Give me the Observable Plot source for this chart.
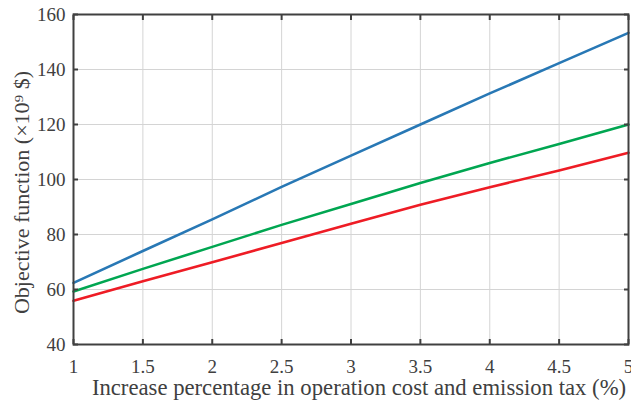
<!DOCTYPE html>
<html><head><meta charset="utf-8">
<script src="https://cdn.jsdelivr.net/npm/d3@7"></script>
<script src="https://cdn.jsdelivr.net/npm/@observablehq/plot@0.6"></script>
<style>
body{margin:0;background:#fff}
#chart svg text{font-family:'Liberation Serif','Times New Roman',serif;}
</style>
</head><body><div id="chart"></div>
<script>
const xValues = [1, 1.5, 2, 2.5, 3, 3.5, 4, 4.5, 5];
const blueValues = [62.4, 74.0, 85.5, 97.3, 108.7, 120.0, 131.3, 142.3, 153.3];
const greenValues = [59.3, 67.5, 75.5, 83.5, 91.1, 98.7, 106.0, 112.9, 120.0];
const redValues = [55.9, 63.0, 69.9, 76.9, 83.9, 90.8, 97.2, 103.3, 109.7];
const seriesNames = ["Series A", "Series B", "Series C"];
const seriesColors = ["#2878b5", "#00a651", "#ee1c25"];
const xTicks = [1, 1.5, 2, 2.5, 3, 3.5, 4, 4.5, 5];
const yTicks = [40, 60, 80, 100, 120, 140, 160];
const xLabel = "Increase percentage in operation cost and emission tax (%)";
const yLabel = "Objective function (×10⁹ $)";

const allValues = [blueValues, greenValues, redValues];
const data = seriesNames.flatMap((s, i) => xValues.map((x, j) => ({series: s, x, y: allValues[i][j]})));

const axisColor = "#404040";
const fmt = d3.format("");
const font = "'Liberation Serif', 'Times New Roman', serif";
const chart = Plot.plot({
  width: 631, height: 401,
  marginLeft: 73, marginRight: 3, marginTop: 14, marginBottom: 57,
  style: {fontFamily: font, fontSize: "19px", color: axisColor, background: "#fff", overflow: "visible"},
  x: {domain: [1, 5], axis: null},
  y: {domain: [40, 160], axis: null},
  color: {domain: seriesNames, range: seriesColors},
  marks: [
    Plot.gridX(xTicks, {stroke: "#d4d4d4", strokeOpacity: 1, strokeWidth: 1}),
    Plot.gridY(yTicks, {stroke: "#d4d4d4", strokeOpacity: 1, strokeWidth: 1}),
    Plot.line(data, {x: "x", y: "y", stroke: "series", strokeWidth: 2.6}),
    Plot.frame({stroke: axisColor, strokeWidth: 2}),
    Plot.axisX(xTicks, {anchor: "bottom", tickSize: -5, text: null, label: null, stroke: axisColor, strokeWidth: 2}),
    Plot.axisX(xTicks, {anchor: "top", tickSize: -5, text: null, label: null, stroke: axisColor, strokeWidth: 2}),
    Plot.axisY(yTicks, {anchor: "left", tickSize: -5, text: null, label: null, stroke: axisColor, strokeWidth: 2}),
    Plot.axisY(yTicks, {anchor: "right", tickSize: -5, text: null, label: null, stroke: axisColor, strokeWidth: 2}),
    Plot.text(xTicks, {x: d => d, text: d => fmt(d), frameAnchor: "bottom", textAnchor: "middle", lineAnchor: "top", dy: 15,
      fontSize: 19, fill: axisColor, fontFamily: font}),
    Plot.text(yTicks, {y: d => d, text: d => fmt(d), frameAnchor: "left", textAnchor: "end", lineAnchor: "middle", dx: -8,
      fontSize: 19, fill: axisColor, fontFamily: font}),
    Plot.text([xLabel], {text: d => d, frameAnchor: "bottom", textAnchor: "middle", lineAnchor: "bottom", dy: 50, dx: 8,
      fontSize: 22.7, fill: axisColor, fontFamily: font}),
    Plot.text([yLabel], {text: d => d, frameAnchor: "left", textAnchor: "middle", lineAnchor: "bottom", rotate: -90, dx: -45, dy: 13,
      fontSize: 22, fill: axisColor, fontFamily: font})
  ]
});
document.getElementById("chart").appendChild(chart);
</script></body></html>
